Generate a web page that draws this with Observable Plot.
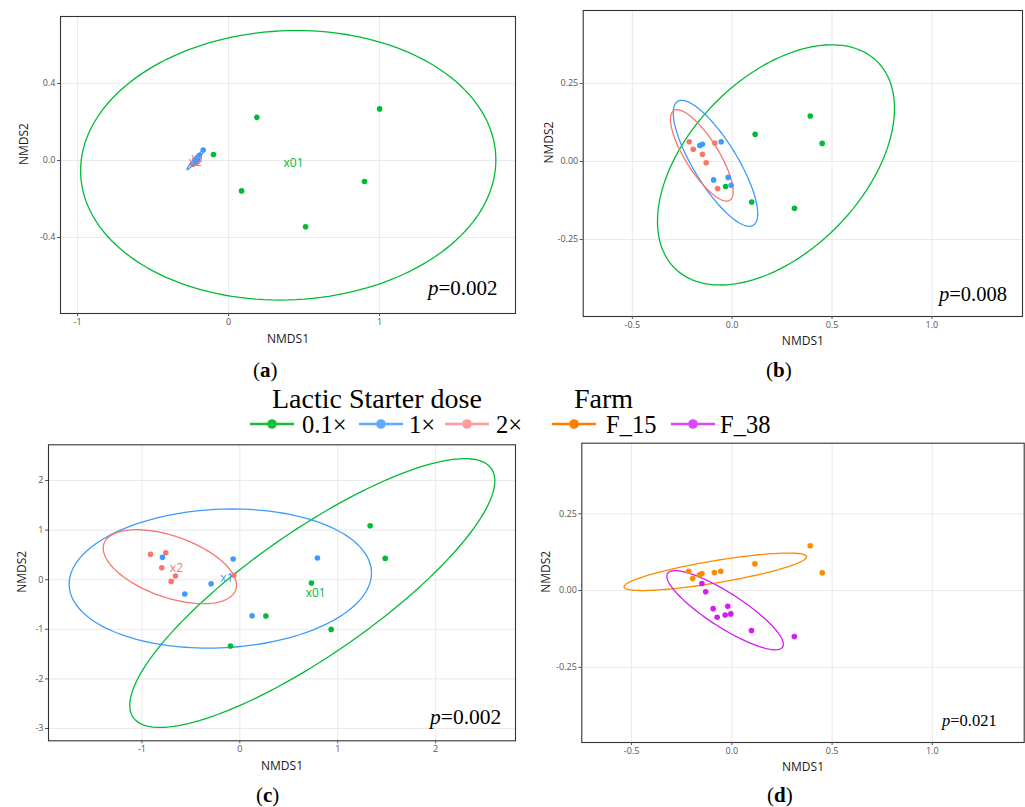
<!DOCTYPE html>
<html><head><meta charset="utf-8">
<script src="https://cdn.jsdelivr.net/npm/d3@7"></script>
<script src="https://cdn.jsdelivr.net/npm/@observablehq/plot@0.6"></script>
<style>
body{margin:0;background:#fff;}
#root{position:relative;width:1025px;height:807px;overflow:hidden;}
.t{position:absolute;font-family:"Liberation Serif","Times New Roman",serif;color:#000;white-space:nowrap;line-height:1;}
</style></head><body><div id="root"></div>
<script>
// ---------- levels, labels, colours ----------
const doseLevels = ["0.1×", "1×", "2×"];
const doseCentroidText = ["x01", "x1", "x2"];
const doseColors = ["#00BA38", "#3D9BFF", "#F8766D"];
const doseLegendColors = ["#13BE3A", "#61A8FF", "#FF9B9B"];
const farmLevels = ["F_15", "F_38"];
const farmColors = ["#FF8A00", "#D31CF2"];
const farmLegendColors = ["#FF8000", "#E046FA"];
const pValues = ["0.002", "0.008", "0.002", "0.021"];
const panelLetters = ["a", "b", "c", "d"];

// ---------- panel (a) samples ----------
const aNMDS1 = [-0.225, -0.212, -0.236, -0.203, -0.220, -0.230,
                -0.168, -0.195, -0.210, -0.222, -0.235, -0.205,
                 0.187,  1.000, -0.100,  0.086,  0.900,  0.510];
const aNMDS2 = [ 0.004, -0.010, -0.020, -0.004, -0.001, -0.012,
                 0.054,  0.025,  0.008, -0.004, -0.016,  0.012,
                 0.224,  0.268,  0.031, -0.158, -0.109, -0.344];
const aDose  = ["2×","2×","2×","2×","2×","2×","1×","1×","1×","1×","1×","1×",
                "0.1×","0.1×","0.1×","0.1×","0.1×","0.1×"];
// ellipses (a): centre, x half-extent, y half-extent, correlation
const aEllGroup = ["0.1×", "1×", "2×"];
const aEllCx  = [0.395, -0.2175, -0.216];
const aEllCy  = [-0.025, 0.005, -0.006];
const aEllRx  = [1.375, 0.058, 0.028];
const aEllRy  = [0.700, 0.053, 0.022];
const aEllRho = [0.04, 0.97, 0.85];
const aXTicks = [-1, 0, 1], aXLabels = ["-1", "0", "1"];
const aYTicks = [0.4, 0, -0.4], aYLabels = ["0.4", "0.0", "-0.4"];

// ---------- panels (b) and (d) samples (same ordination) ----------
const bdNMDS1 = [-0.215, -0.195, -0.149, -0.130, -0.087, -0.073,
                 -0.162, -0.149, -0.055, -0.093, -0.020, -0.005,
                  0.115,  0.391,  0.451, -0.033,  0.098,  0.312];
const bdNMDS2 = [ 0.063,  0.039,  0.023, -0.004,  0.059, -0.087,
                  0.051,  0.055,  0.063, -0.059, -0.051, -0.076,
                  0.087,  0.146,  0.058, -0.080, -0.130, -0.150];
const bdDose  = ["2×","2×","2×","2×","2×","2×","1×","1×","1×","1×","1×","1×",
                 "0.1×","0.1×","0.1×","0.1×","0.1×","0.1×"];
const bdFarm  = ["F_15","F_15","F_38","F_38","F_15","F_38","F_15","F_15","F_15","F_38","F_38","F_38",
                 "F_15","F_15","F_15","F_38","F_38","F_38"];
const bEllGroup = ["0.1×", "1×", "2×"];
const bEllCx  = [0.2195, -0.0835, -0.152];
const bEllCy  = [-0.011, -0.006, 0.0195];
const bEllRx  = [0.5935, 0.2115, 0.157];
const bEllRy  = [0.385, 0.2018, 0.1465];
const bEllRho = [0.47, -0.80, -0.79];
const dEllGroup = ["F_15", "F_38"];
const dEllCx  = [-0.082, -0.0335];
const dEllCy  = [0.061, -0.064];
const dEllRx  = [0.455, 0.2905];
const dEllRy  = [0.061, 0.129];
const dEllRho = [0.80, -0.86];
const bdXTicks = [-0.5, 0, 0.5, 1], bdXLabels = ["-0.5", "0.0", "0.5", "1.0"];
const bdYTicks = [0.25, 0, -0.25], bdYLabels = ["0.25", "0.00", "-0.25"];

// ---------- panel (c) samples ----------
const cNMDS1 = [-0.912, -0.756, -0.797, -0.657, -0.701, -0.060,
                -0.790, -0.068, -0.293, -0.562,  0.126,  0.793,
                 1.331,  1.485,  0.732,  0.266,  0.933, -0.095];
const cNMDS2 = [ 0.511,  0.545,  0.242,  0.074, -0.034,  0.090,
                 0.451,  0.417, -0.081, -0.289, -0.726,  0.437,
                 1.089,  0.430, -0.067, -0.733, -1.002, -1.338];
const cDose  = ["2×","2×","2×","2×","2×","2×","1×","1×","1×","1×","1×","1×",
                "0.1×","0.1×","0.1×","0.1×","0.1×","0.1×"];
const cEllGroup = ["0.1×", "1×", "2×"];
const cEllCx  = [0.7405, -0.199, -0.7145];
const cEllCy  = [-0.269, 0.0235, 0.262];
const cEllRx  = [1.8645, 1.544, 0.6805];
const cEllRy  = [2.71, 1.4025, 0.746];
const cEllRho = [0.835, 0.08, -0.5];
const cXTicks = [-1, 0, 1, 2], cXLabels = ["-1", "0", "1", "2"];
const cYTicks = [2, 1, 0, -1, -2, -3], cYLabels = ["2", "1", "0", "-1", "-2", "-3"];

// ---------- helpers ----------
const root = document.getElementById("root");
function place(node, left, top) {
  const d = document.createElement("div");
  d.style.cssText = `position:absolute;left:${left}px;top:${top}px;`;
  d.appendChild(node); root.appendChild(d);
}
function ellipseRows(groups, cx, cy, rx, ry, rho) {
  const rows = [];
  groups.forEach((g, i) => {
    const phi = Math.acos(rho[i]);
    for (let k = 0; k <= 160; k++) {
      const t = 2 * Math.PI * k / 160;
      rows.push({g, x: cx[i] + rx[i] * Math.cos(t), y: cy[i] + ry[i] * Math.cos(t - phi)});
    }
  });
  return rows;
}
function panel(cfg) {
  const pts = cfg.n1.map((x, i) => ({x, y: cfg.n2[i], g: cfg.grp[i]}));
  const ell = ellipseRows(cfg.eg, cfg.ecx, cfg.ecy, cfg.erx, cfg.ery, cfg.erho);
  const xMap = new Map(cfg.xt.map((t, i) => [t, cfg.xl[i]]));
  const yMap = new Map(cfg.yt.map((t, i) => [t, cfg.yl[i]]));
  const marks = [
    Plot.gridX(cfg.xt, {stroke: "#ebebeb", strokeOpacity: 1, strokeWidth: 1.1}),
    Plot.gridY(cfg.yt, {stroke: "#ebebeb", strokeOpacity: 1, strokeWidth: 1.1}),
    Plot.line(ell, {x: "x", y: "y", z: "g", stroke: "g", strokeWidth: 1.3}),
    Plot.dot(pts, {x: "x", y: "y", fill: "g", r: 2.8})
  ];
  if (cfg.centroidText) {
    const lab = new Map(cfg.levels.map((l, i) => [l, cfg.centroidText[i]]));
    marks.push(Plot.text(pts, Plot.groupZ({x: "mean", y: "mean", text: "first"},
      {x: "x", y: "y", z: "g", fill: "g", text: d => lab.get(d.g), fontSize: cfg.centroidSize || 12})));
  }
  marks.push(
    Plot.frame({stroke: "#333", strokeWidth: 1.1}),
    Plot.axisX(cfg.xt, {tickFormat: d => xMap.get(d), tickSize: 3, tickPadding: 2, fontSize: 9, color: "#555", label: null}),
    Plot.axisY(cfg.yt, {tickFormat: d => yMap.get(d), tickSize: 3, tickPadding: 2, fontSize: 9, color: "#555", label: null}),
    Plot.text(["NMDS1"], {text: d => d, frameAnchor: "bottom", dy: cfg.xTitleDy, fontSize: 12, fill: "#1a1a1a"}),
    Plot.text(["NMDS2"], {text: d => d, frameAnchor: "left", dx: cfg.yTitleDx, rotate: -90, fontSize: 12, fill: "#1a1a1a"})
  );
  return Plot.plot({
    width: cfg.w, height: cfg.h,
    marginLeft: cfg.ml, marginRight: cfg.mr, marginTop: cfg.mt, marginBottom: cfg.mb,
    x: {domain: cfg.xd}, y: {domain: cfg.yd},
    color: {domain: cfg.levels, range: cfg.colors},
    style: {fontFamily: "'Open Sans', sans-serif", fontSize: "9px", background: "transparent", overflow: "visible"},
    marks
  });
}

// ---------- panels ----------
place(panel({w: 520, h: 360, ml: 60, mr: 5, mt: 16, mb: 47,
  xd: [-1.113, 1.900], yd: [-0.795, 0.748],
  n1: aNMDS1, n2: aNMDS2, grp: aDose, levels: doseLevels, colors: doseColors,
  eg: aEllGroup, ecx: aEllCx, ecy: aEllCy, erx: aEllRx, ery: aEllRy, erho: aEllRho,
  xt: aXTicks, xl: aXLabels, yt: aYTicks, yl: aYLabels, centroidText: doseCentroidText,
  xTitleDy: 29, yTitleDx: -36}), 0, 0);

place(panel({w: 505, h: 360, ml: 62.7, mr: 3, mt: 10, mb: 44,
  xd: [-0.746, 1.454], yd: [-0.497, 0.484],
  n1: bdNMDS1, n2: bdNMDS2, grp: bdDose, levels: doseLevels, colors: doseColors,
  eg: bEllGroup, ecx: bEllCx, ecy: bEllCy, erx: bEllRx, ery: bEllRy, erho: bEllRho,
  xt: bdXTicks, xl: bdXLabels, yt: bdYTicks, yl: bdYLabels,
  xTitleDy: 28, yTitleDx: -34}), 520, 0);

place(panel({w: 520, h: 387, ml: 48, mr: 5, mt: 24.3, mb: 66.7,
  xd: [-1.954, 2.816], yd: [-3.248, 2.72],
  n1: cNMDS1, n2: cNMDS2, grp: cDose, levels: doseLevels, colors: doseColors,
  eg: cEllGroup, ecx: cEllCx, ecy: cEllCy, erx: cEllRx, ery: cEllRy, erho: cEllRho,
  xt: cXTicks, xl: cXLabels, yt: cYTicks, yl: cYLabels, centroidText: doseCentroidText,
  xTitleDy: 28.7, yTitleDx: -26.3}), 0, 420);

place(panel({w: 505, h: 387, ml: 61.3, mr: 1.3, mt: 22.7, mb: 65,
  xd: [-0.748, 1.458], yd: [-0.495, 0.480],
  n1: bdNMDS1, n2: bdNMDS2, grp: bdFarm, levels: farmLevels, colors: farmColors,
  eg: dEllGroup, ecx: dEllCx, ecy: dEllCy, erx: dEllRx, ery: dEllRy, erho: dEllRho,
  xt: bdXTicks, xl: bdXLabels, yt: bdYTicks, yl: bdYLabels,
  xTitleDy: 28, yTitleDx: -35.3}), 520, 420);

// ---------- text overlays ----------
function addText(html, left, baseline, size, extra) {
  const s = document.createElement("div");
  s.className = "t";
  s.style.left = left + "px";
  s.style.top = (baseline - 0.8375 * size) + "px";
  s.style.fontSize = size + "px";
  if (extra) s.style.cssText += extra;
  s.innerHTML = html;
  root.appendChild(s);
}
// p-values
const pPos = [[428, 296, 21], [937, 301, 20.5], [430, 725, 21.5], [942, 727, 16.5]];
pValues.forEach((p, i) => {
  const [l, b, s] = pPos[i];
  addText(`<i>p</i>=${p}`, l, b, s, i === 1 ? "background:#fff;padding:0 2px;" : "");
});
// panel letters
const letterPos = [[253, 378], [766, 378], [256, 803], [767, 803]];
panelLetters.forEach((L, i) => addText(`(<b>${L}</b>)`, letterPos[i][0], letterPos[i][1], 21));

// legend titles
addText("Lactic Starter dose", 272, 408, 28);
addText("Farm", 574, 408, 28);

// legend keys
const legendItems = [
  ...doseLevels.map((l, i) => ({label: l, color: doseLegendColors[i]})),
  ...farmLevels.map((l, i) => ({label: l, color: farmLegendColors[i]}))
];
const keyX = [250, 359, 445, 552, 671];
const textX = [302, 409, 496, 606, 720];
legendItems.forEach((it, i) => {
  const svg = d3.create("svg").attr("width", 46).attr("height", 14)
    .style("position", "absolute").style("left", keyX[i] + "px").style("top", "417px");
  svg.append("line").attr("x1", 0).attr("x2", 44).attr("y1", 7).attr("y2", 7)
    .attr("stroke", it.color).attr("stroke-width", 2.6);
  svg.append("circle").attr("cx", 22).attr("cy", 7).attr("r", 4.8).attr("fill", it.color);
  root.appendChild(svg.node());
  addText(it.label, textX[i], 433.5, 24.5);
});
</script></body></html>
